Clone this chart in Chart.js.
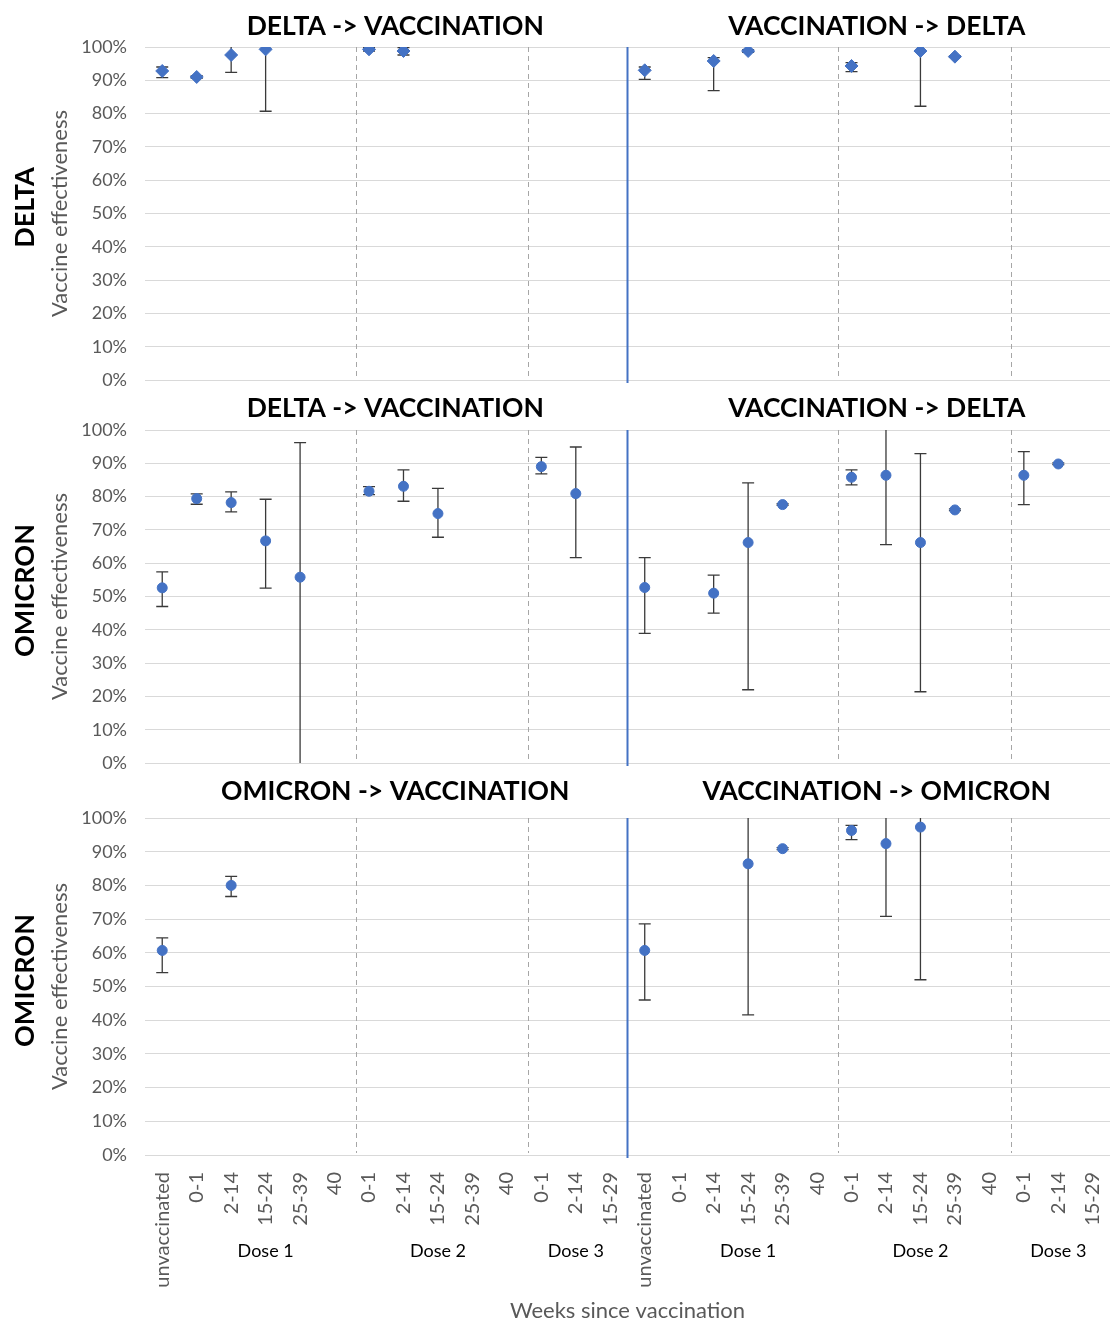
<!DOCTYPE html>
<html>
<head>
<meta charset="utf-8">
<script src="https://cdn.jsdelivr.net/npm/chart.js@4.4.1/dist/chart.umd.min.js"></script>
<style>
  body { margin: 0; background: #fff; }
  #wrap { position: relative; width: 1111px; height: 1320px; }
  canvas { position: absolute; left: 0; }
</style>
</head>
<body>
<div id="wrap">
  <canvas id="row1" width="1111" height="395" style="top:0px"></canvas>
  <canvas id="row2" width="1111" height="390" style="top:390px"></canvas>
  <canvas id="row3" width="1111" height="545" style="top:775px"></canvas>
</div>
<script>
// x categories: one half of the chart, repeated for the right panel
const weekLabels = ['unvaccinated', '0-1', '2-14', '15-24', '25-39', '40',
  '0-1', '2-14', '15-24', '25-39', '40', '0-1', '2-14', '15-29'];
const doseNames = ['Dose 1', 'Dose 2', 'Dose 3'];
const doseSpans = [[1, 5], [6, 10], [11, 13]];
const yTicks = [0, 10, 20, 30, 40, 50, 60, 70, 80, 90, 100];

// row 1, DELTA
const deltaThenVacVal = [92.8, 91.0, 97.6, 99.3, null, null, 99.3, 98.8, null, null, null, null, null, null];
const deltaThenVacLo  = [90.8, 90.6, 92.4, 80.7, null, null, 98.8, 97.6, null, null, null, null, null, null];
const deltaThenVacHi  = [94.0, 91.4, 100, 100, null, null, 99.8, 99.8, null, null, null, null, null, null];
const vacThenDeltaVal = [93.0, null, 95.8, 98.8, null, null, 94.3, null, 98.8, 97.1, null, null, null, null];
const vacThenDeltaLo  = [90.3, null, 86.9, 98.4, null, null, 92.6, null, 82.2, 96.9, null, null, null, null];
const vacThenDeltaHi  = [94.0, null, 96.8, 99.2, null, null, 95.3, null, 100, 97.3, null, null, null, null];

// row 2, OMICRON after DELTA / vaccination
const omiDeltaVacVal = [52.6, 79.4, 78.2, 66.7, 55.8, null, 81.6, 83.1, 74.9, null, null, 89.0, 80.9, null];
const omiDeltaVacLo  = [47.0, 77.7, 75.4, 52.5, 0, null, 80.6, 78.6, 67.8, null, null, 86.8, 61.7, null];
const omiDeltaVacHi  = [57.4, 80.8, 81.4, 79.2, 96.2, null, 83.0, 88.0, 82.5, null, null, 91.8, 94.9, null];
const omiVacDeltaVal = [52.7, null, 51.0, 66.2, 77.6, null, 85.8, 86.4, 66.2, 76.0, null, 86.4, 89.8, null];
const omiVacDeltaLo  = [38.9, null, 45.0, 22.0, 77.4, null, 83.5, 65.6, 21.4, 75.8, null, 77.6, 89.6, null];
const omiVacDeltaHi  = [61.7, null, 56.4, 84.1, 77.9, null, 88.0, 100, 92.9, 76.3, null, 93.5, 90.1, null];

// row 3, OMICRON after OMICRON / vaccination
const omiThenVacVal = [60.7, null, 80.0, null, null, null, null, null, null, null, null, null, null, null];
const omiThenVacLo  = [54.1, null, 76.7, null, null, null, null, null, null, null, null, null, null, null];
const omiThenVacHi  = [64.4, null, 82.7, null, null, null, null, null, null, null, null, null, null, null];
const vacThenOmiVal = [60.7, null, null, 86.4, 90.9, null, 96.3, 92.4, 97.3, null, null, null, null, null];
const vacThenOmiLo  = [46.0, null, null, 41.6, 90.6, null, 93.6, 70.8, 52.0, null, null, null, null, null];
const vacThenOmiHi  = [68.6, null, null, 100, 91.2, null, 97.8, 100, 100, null, null, null, null, null];

const blue = '#4472C4';
const grey = '#595959';
const font = 'Lato, "Open Sans", sans-serif';

const rows = [
  { id: 'row1', padTop: 47, xHeight: 15, rowLabel: 'DELTA', titles: ['DELTA -> VACCINATION', 'VACCINATION -> DELTA'],
    titleGap: 21, marker: 'rectRot', radius: 6.5,
    val: deltaThenVacVal.concat(vacThenDeltaVal), lo: deltaThenVacLo.concat(vacThenDeltaLo), hi: deltaThenVacHi.concat(vacThenDeltaHi) },
  { id: 'row2', padTop: 40, xHeight: 17, rowLabel: 'OMICRON', titles: ['DELTA -> VACCINATION', 'VACCINATION -> DELTA'],
    titleGap: 22, marker: 'circle', radius: 5,
    val: omiDeltaVacVal.concat(omiVacDeltaVal), lo: omiDeltaVacLo.concat(omiVacDeltaLo), hi: omiDeltaVacHi.concat(omiVacDeltaHi) },
  { id: 'row3', padTop: 43, xHeight: 165, rowLabel: 'OMICRON', titles: ['OMICRON -> VACCINATION', 'VACCINATION -> OMICRON'],
    titleGap: 27, marker: 'circle', radius: 5, showX: true,
    val: omiThenVacVal.concat(vacThenOmiVal), lo: omiThenVacLo.concat(vacThenOmiLo), hi: omiThenVacHi.concat(vacThenOmiHi) }
];

const decor = {
  id: 'decor',
  beforeDatasetsDraw(chart) {
    const ctx = chart.ctx;
    const a = chart.chartArea;
    const xs = chart.scales.x;
    const ys = chart.scales.y;
    const row = chart.options.plugins.decor.row;
    ctx.save();
    // dashed group separators
    ctx.strokeStyle = '#a6a6a6';
    ctx.lineWidth = 1;
    ctx.setLineDash([5, 4]);
    [0, 14].forEach(off => {
      [doseSpans[0][1], doseSpans[1][1]].forEach(end => {
        const x = Math.round(xs.getPixelForValue(off + end + 0.62)) + 0.5;
        ctx.beginPath();
        ctx.moveTo(x, a.top);
        ctx.lineTo(x, a.bottom - 2);
        ctx.stroke();
      });
    });
    ctx.setLineDash([]);
    // panel separator
    const mid = xs.getPixelForValue(13.5);
    ctx.strokeStyle = blue;
    ctx.lineWidth = 2;
    ctx.beginPath();
    ctx.moveTo(mid, a.top);
    ctx.lineTo(mid, a.bottom + 3);
    ctx.stroke();
    // error bars
    ctx.strokeStyle = '#3a3a3a';
    ctx.lineWidth = 1.3;
    row.val.forEach((v, i) => {
      if (v === null || row.lo[i] === null) return;
      const x = xs.getPixelForValue(i);
      const y1 = ys.getPixelForValue(Math.max(row.lo[i], 0));
      const y2 = ys.getPixelForValue(Math.min(row.hi[i], 100));
      ctx.beginPath();
      ctx.moveTo(x, y1);
      ctx.lineTo(x, y2);
      if (row.lo[i] > 0) { ctx.moveTo(x - 6, y1); ctx.lineTo(x + 6, y1); }
      if (row.hi[i] < 100) { ctx.moveTo(x - 6, y2); ctx.lineTo(x + 6, y2); }
      ctx.stroke();
    });
    ctx.restore();
  },
  afterDraw(chart) {
    const ctx = chart.ctx;
    const a = chart.chartArea;
    const xs = chart.scales.x;
    const row = chart.options.plugins.decor.row;
    const mid = xs.getPixelForValue(13.5);
    const cy = (a.top + a.bottom) / 2;
    ctx.save();
    ctx.textAlign = 'center';
    ctx.textBaseline = 'middle';
    // panel titles
    ctx.fillStyle = '#000';
    ctx.font = 'bold 26.5px ' + font;
    ctx.fillText(row.titles[0], (a.left + mid) / 2 + 9, a.top - row.titleGap);
    ctx.fillText(row.titles[1], (mid + a.right) / 2 + 8, a.top - row.titleGap);
    // row label and y axis title
    ctx.save();
    ctx.translate(25, cy - 6);
    ctx.rotate(-Math.PI / 2);
    ctx.font = 'bold 27px ' + font;
    ctx.fillText(row.rowLabel, 0, 0);
    ctx.restore();
    ctx.save();
    ctx.translate(60, cy);
    ctx.rotate(-Math.PI / 2);
    ctx.fillStyle = grey;
    ctx.font = '22px ' + font;
    ctx.fillText('Vaccine effectiveness', 0, 0);
    ctx.restore();
    if (row.showX) {
      ctx.fillStyle = '#000';
      ctx.font = '18px ' + font;
      [0, 14].forEach(off => {
        doseNames.forEach((name, k) => {
          const x = (xs.getPixelForValue(off + doseSpans[k][0]) + xs.getPixelForValue(off + doseSpans[k][1])) / 2;
          ctx.fillText(name, x, a.bottom + 96);
        });
      });
      ctx.fillStyle = grey;
      ctx.font = '22px ' + font;
      ctx.fillText('Weeks since vaccination', mid, a.bottom + 156);
    }
    ctx.restore();
  }
};

rows.forEach(row => {
  new Chart(document.getElementById(row.id), {
    type: 'line',
    data: {
      labels: weekLabels.concat(weekLabels),
      datasets: [{
        data: row.val,
        showLine: false,
        pointStyle: row.marker,
        pointRadius: row.radius,
        pointBackgroundColor: blue,
        pointBorderColor: blue,
        pointBorderWidth: 1
      }]
    },
    options: {
      responsive: false,
      animation: false,
      devicePixelRatio: 1,
      layout: { autoPadding: false, padding: { top: row.padTop, right: 1, left: 0, bottom: 0 } },
      plugins: {
        legend: { display: false },
        tooltip: { enabled: false },
        decor: { row: row }
      },
      scales: {
        x: {
          offset: true,
          grid: { display: false },
          border: { display: false },
          ticks: {
            display: !!row.showX,
            autoSkip: false,
            maxRotation: 90,
            minRotation: 90,
            padding: 9,
            color: grey,
            font: { family: font, size: 20 }
          },
          afterFit(scale) {
            scale.height = row.xHeight;
            scale.paddingLeft = 0;
            scale.paddingRight = 0;
          }
        },
        y: {
          min: 0,
          max: 100,
          afterBuildTicks(scale) { scale.ticks = yTicks.map(v => ({ value: v })); },
          grid: { color: '#d9d9d9', lineWidth: 1, drawTicks: false },
          border: { display: false },
          ticks: {
            padding: 18,
            color: grey,
            font: { family: font, size: 18 },
            callback: v => v + '%'
          },
          afterFit(scale) {
            scale.width = 145;
            scale.paddingTop = 0;
            scale.paddingBottom = 0;
          }
        }
      }
    },
    plugins: [decor]
  });
});
</script>
</body>
</html>
